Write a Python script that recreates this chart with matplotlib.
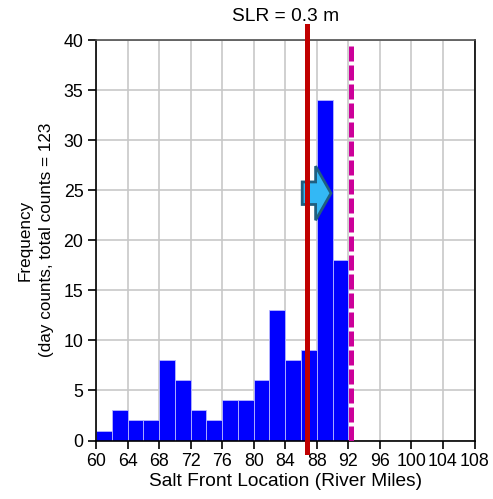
import matplotlib
matplotlib.use("Agg")
import matplotlib.pyplot as plt
from matplotlib.patches import FancyArrow
import numpy as np

plt.rcParams['font.family'] = ['Liberation Sans', 'DejaVu Sans']

bin_left = [60, 62, 64, 66, 68, 70, 72, 74, 76, 78, 80, 82, 84, 86, 88, 90]
counts = [1, 3, 2, 2, 8, 6, 3, 2, 4, 4, 6, 13, 8, 9, 34, 18]
bin_width = 2
xticks = [60, 64, 68, 72, 76, 80, 84, 88, 92, 96, 100, 104, 108]
yticks = [0, 5, 10, 15, 20, 25, 30, 35, 40]
red_line_x = 86.8
magenta_line_x = 92.4
arrow_start, arrow_end, arrow_y = 86.15, 89.8, 24.7

fig = plt.figure(figsize=(4.93, 4.99), dpi=100)
ax = fig.add_axes([0.1947, 0.1172, 0.9625 - 0.1947, 0.9198 - 0.1172])

ax.bar(bin_left, counts, width=bin_width, align='edge', color='#0000FF',
       edgecolor='#B8B8FF', linewidth=0.6, zorder=2)

ax.set_xlim(60, 108)
ax.set_ylim(0, 40)
ax.set_xticks(xticks)
ax.set_yticks(yticks)
ax.grid(True, color='#C8C8C8', linewidth=1.2, zorder=0)
ax.set_axisbelow(True)
ax.tick_params(direction='out', length=6, width=1.2, labelsize=12.8, colors='black', pad=3)
for s in ax.spines.values():
    s.set_linewidth(1.2)
ax.spines['top'].set_color('#505050')

ax.set_xlabel('Salt Front Location (River Miles)', fontsize=13.8, labelpad=2)
ax.set_ylabel('Frequency\n(day counts, total counts = 123', fontsize=12.3, labelpad=7,
              linespacing=1.5)
ax.set_title('SLR = 0.3 m', fontsize=13.8, pad=14)

arrow = FancyArrow(arrow_start, arrow_y, arrow_end - arrow_start, 0,
                   width=2.25, head_width=5.4, head_length=1.95,
                   length_includes_head=True, facecolor='#33B8F5',
                   edgecolor='#1F5F80', linewidth=2, zorder=4)
ax.add_patch(arrow)

ax.axvline(magenta_line_x, ymin=0, ymax=0.99, color='#CC0099', linewidth=3.6,
           dashes=(3.0, 0.8), zorder=3)
ax.axvline(red_line_x, ymin=-0.029, ymax=1.035, color='#C00000', linewidth=3.6,
           zorder=5, clip_on=False)

fig.savefig('out.png', dpi=100)
